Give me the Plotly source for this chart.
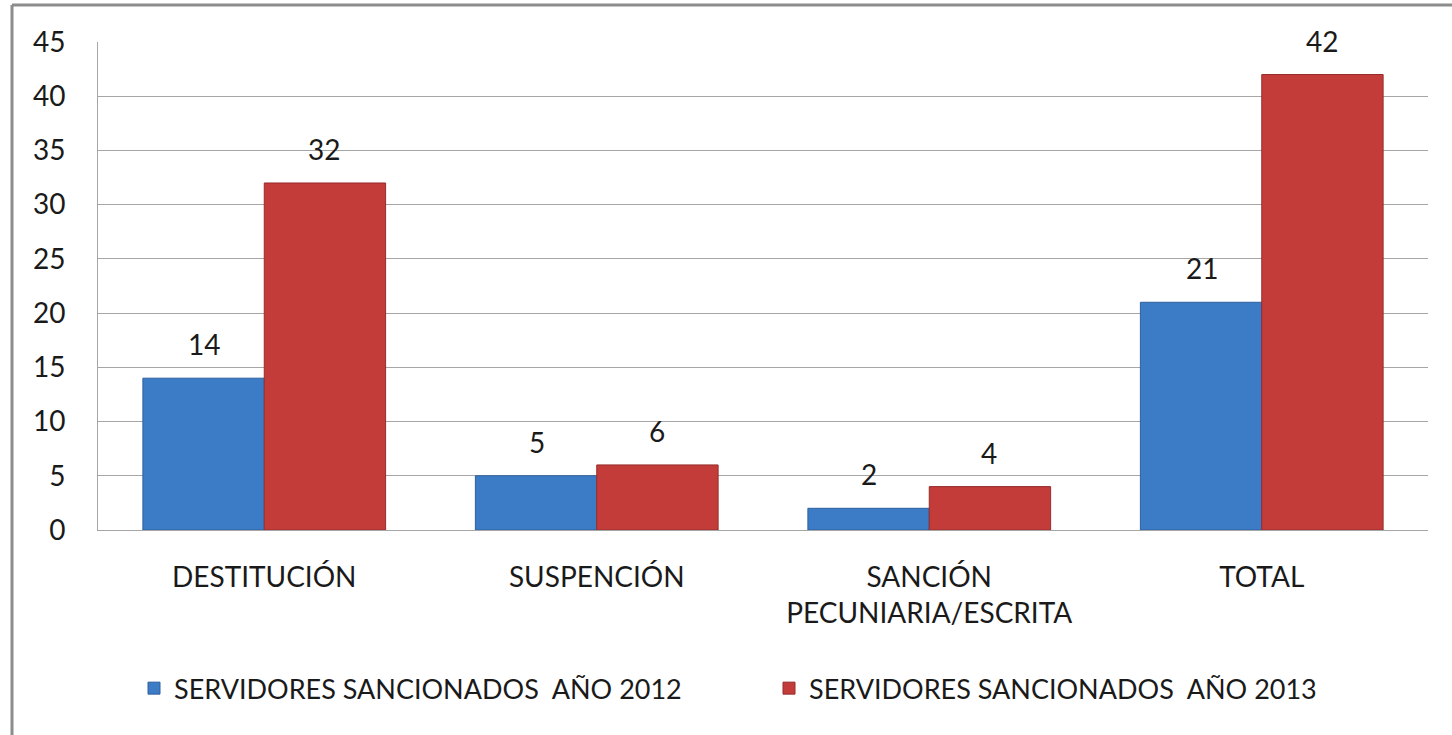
import plotly.graph_objects as go

categories = ["DESTITUCIÓN", "SUSPENCIÓN", "SANCIÓN<br>PECUNIARIA/ESCRITA", "TOTAL"]
series_2012 = [14, 5, 2, 21]
series_2013 = [32, 6, 4, 42]
name_2012 = "SERVIDORES SANCIONADOS  AÑO 2012"
name_2013 = "SERVIDORES SANCIONADOS  AÑO 2013"
y_ticks = [0, 5, 10, 15, 20, 25, 30, 35, 40, 45]

FONT = "Lato, Liberation Sans, sans-serif"
TXT = "#1a1a1a"
BLUE = "#3C7BC6"
RED = "#C33C3A"

fig = go.Figure()
fig.add_trace(go.Bar(
    x=categories, y=series_2012, name=name_2012,
    marker=dict(color=BLUE, line=dict(color="#2E609E", width=1)),
))
fig.add_trace(go.Bar(
    x=categories, y=series_2013, name=name_2013,
    marker=dict(color=RED, line=dict(color="#962C2A", width=1)),
))

# value labels placed above bars
annotations = []
for c, v in zip(categories, series_2012):
    annotations.append(dict(x=c, y=v, text=str(v), showarrow=False, xref="x", yref="y",
                            xshift=-60, yshift=34, yanchor="middle",
                            font=dict(family=FONT, size=28, color=TXT)))
for c, v in zip(categories, series_2013):
    annotations.append(dict(x=c, y=v, text=str(v), showarrow=False, xref="x", yref="y",
                            xshift=60, yshift=34, yanchor="middle",
                            font=dict(family=FONT, size=28, color=TXT)))

W, H = 1452, 735
ml, mr, mt, mb = 98, 24, 42, 205
pw = W - ml - mr
ph = H - mt - mb

# outer chart border: only left and top edges are visible in the frame
border = dict(color="#8C8C8C", width=3)
shapes = [
    dict(type="line", xref="paper", yref="paper",
         x0=(12 - ml) / pw, x1=(12 - ml) / pw, y0=-(H - mt - ph + 5) / ph, y1=(mt - 5) / ph + 1,
         line=border, layer="below"),
    dict(type="line", xref="paper", yref="paper",
         x0=(12 - ml) / pw, x1=(W + 5 - ml) / pw, y0=(mt - 5) / ph + 1, y1=(mt - 5) / ph + 1,
         line=border, layer="below"),
]

fig.update_layout(
    width=W, height=H,
    margin=dict(l=ml, r=mr, t=mt, b=mb, pad=0, autoexpand=False),
    paper_bgcolor="white", plot_bgcolor="white",
    barmode="group", bargap=0.27, bargroupgap=0,
    font=dict(family=FONT, size=27, color=TXT),
    showlegend=True,
    legend=dict(orientation="h", x=(134 - ml) / pw, xanchor="left", y=-0.325, yanchor="middle",
                font=dict(family=FONT, size=27, color=TXT),
                itemwidth=30, entrywidth=590, entrywidthmode="pixels",
                traceorder="normal", tracegroupgap=0),
    annotations=annotations,
    shapes=shapes,
    xaxis=dict(showgrid=False, showline=True, linecolor="#A6A6A6", linewidth=1,
               ticks="", tickfont=dict(family=FONT, size=28, color=TXT),
               ticklabelstandoff=22),
    yaxis=dict(range=[0, 45], tickvals=y_ticks, showgrid=True, gridcolor="#A6A6A6", gridwidth=1,
               showline=True, linecolor="#A6A6A6", linewidth=1, ticks="", zeroline=False,
               tickfont=dict(family=FONT, size=28, color=TXT), ticklabelstandoff=26),
)

fig.write_html("out.html", config={"displayModeBar": False},
               post_script="document.body.style.margin='0';document.body.style.overflow='hidden';")
